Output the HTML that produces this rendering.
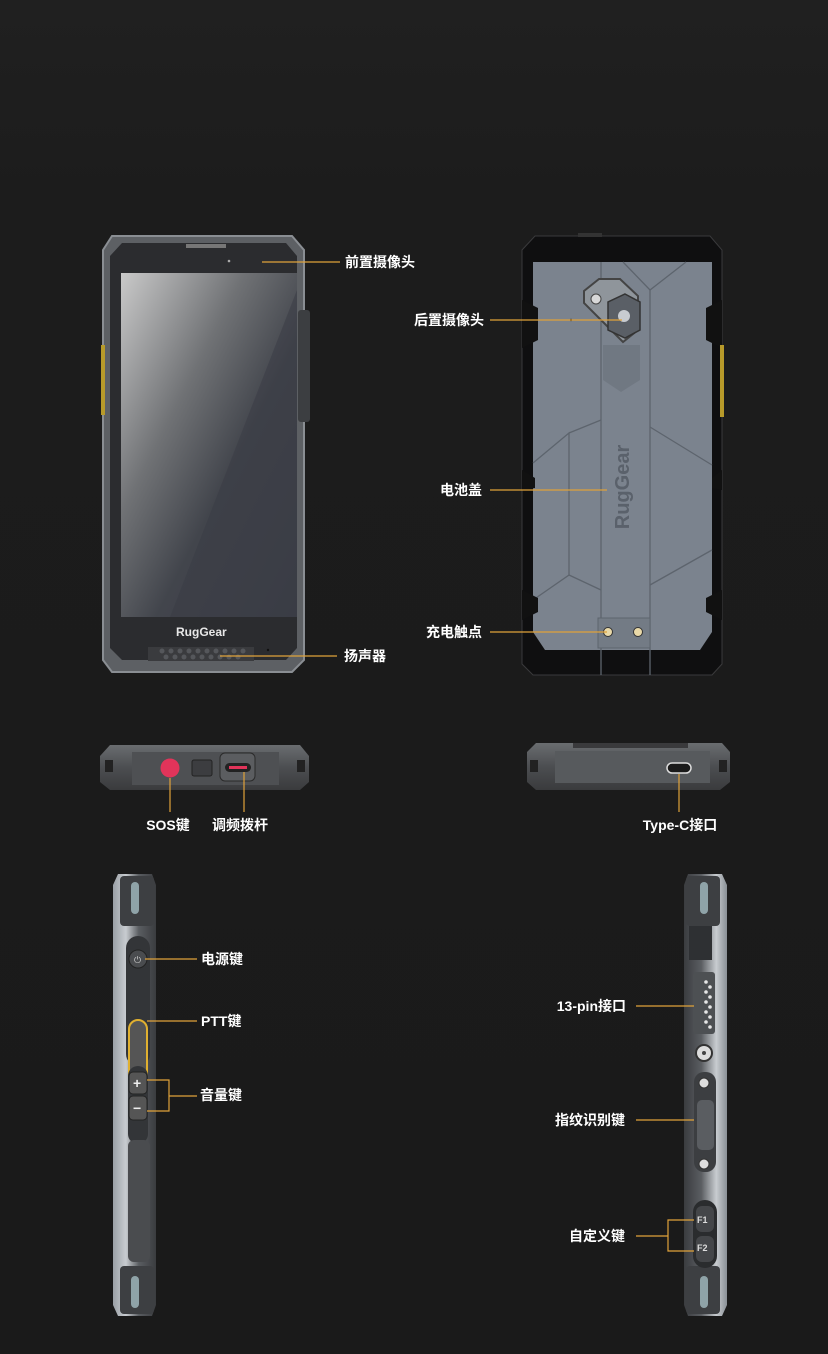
<!DOCTYPE html>
<html><head><meta charset="utf-8"><style>
html,body{margin:0;padding:0;background:#1b1b1b;}
svg{display:block}
text{font-family:"Liberation Sans","Noto Sans CJK SC",sans-serif;font-weight:bold;font-size:14px;fill:#fff}
</style></head><body>
<svg width="828" height="1354" viewBox="0 0 828 1354" xmlns="http://www.w3.org/2000/svg">
<defs>
<linearGradient id="bg" x1="0" y1="0" x2="0" y2="1"><stop offset="0" stop-color="#202020"/><stop offset="0.15" stop-color="#1c1c1c"/><stop offset="1" stop-color="#1a1a1a"/></linearGradient>
<linearGradient id="scr" x1="0" y1="0" x2="1" y2="1"><stop offset="0" stop-color="#c9c9c9"/><stop offset="0.35" stop-color="#707275"/><stop offset="0.6" stop-color="#42454c"/><stop offset="1" stop-color="#3a3d45"/></linearGradient>
<linearGradient id="side" x1="0" y1="0" x2="1" y2="0"><stop offset="0" stop-color="#9aa0a6"/><stop offset="0.3" stop-color="#c8ccd0"/><stop offset="0.6" stop-color="#5a5d61"/><stop offset="1" stop-color="#3a3c3f"/></linearGradient>
<linearGradient id="side2" x1="0" y1="0" x2="1" y2="0"><stop offset="0" stop-color="#3a3c3f"/><stop offset="0.4" stop-color="#5a5d61"/><stop offset="0.75" stop-color="#c8ccd0"/><stop offset="1" stop-color="#8a9096"/></linearGradient>
<linearGradient id="bot" x1="0" y1="0" x2="0" y2="1"><stop offset="0" stop-color="#6a6d70"/><stop offset="0.5" stop-color="#4c4e51"/><stop offset="1" stop-color="#3a3b3d"/></linearGradient>
</defs>
<rect width="828" height="1354" fill="url(#bg)"/>

<!-- FRONT PHONE -->
<path d="M112 236 L292 236 L304 250 L304 660 L292 672 L112 672 L103 660 L103 250 Z" fill="#5d6064" stroke="#8a8e93" stroke-width="2"/>
<rect x="298" y="310" width="12" height="112" rx="3" fill="#3c3e41"/>
<rect x="101" y="345" width="4" height="70" fill="#b79a2a"/>
<path d="M122 243 L286 243 L297 256 L297 648 L286 660 L122 660 L110 648 L110 256 Z" fill="#2b2c2f"/>
<rect x="186" y="244" width="40" height="4" fill="#777"/>
<rect x="121" y="273" width="176" height="344" fill="url(#scr)"/>
<path d="M297 290 L297 617 L170 617 Z" fill="#3a3d45" opacity="0.55"/>
<text x="176" y="636" style="font-size:12px;fill:#e8e8e8">RugGear</text>
<rect x="148" y="647" width="106" height="14" fill="#3a3b3e"/>
<g fill="#55575b">
<circle cx="162" cy="651" r="2.5"/><circle cx="171" cy="651" r="2.5"/><circle cx="180" cy="651" r="2.5"/><circle cx="189" cy="651" r="2.5"/><circle cx="198" cy="651" r="2.5"/><circle cx="207" cy="651" r="2.5"/><circle cx="216" cy="651" r="2.5"/><circle cx="225" cy="651" r="2.5"/><circle cx="234" cy="651" r="2.5"/><circle cx="243" cy="651" r="2.5"/>
<circle cx="166" cy="657" r="2.5"/><circle cx="175" cy="657" r="2.5"/><circle cx="184" cy="657" r="2.5"/><circle cx="193" cy="657" r="2.5"/><circle cx="202" cy="657" r="2.5"/><circle cx="211" cy="657" r="2.5"/><circle cx="220" cy="657" r="2.5"/><circle cx="229" cy="657" r="2.5"/><circle cx="238" cy="657" r="2.5"/>
</g>
<circle cx="268" cy="650" r="1.2" fill="#111"/>
<circle cx="229" cy="261" r="1.3" fill="#aaa"/>
<line x1="262" y1="262" x2="340" y2="262" stroke="#e0a23a" stroke-width="1.2"/>
<text x="345" y="267">前置摄像头</text>
<line x1="220" y1="656" x2="337" y2="656" stroke="#e0a23a" stroke-width="1.2"/>
<text x="344" y="661">扬声器</text>

<!-- BACK PHONE -->
<path d="M535 236 L710 236 L722 250 L722 664 L712 675 L533 675 L522 664 L522 250 Z" fill="#0f0f10" stroke="#3a3a3c" stroke-width="1"/>
<rect x="578" y="233" width="24" height="4" fill="#333"/>
<path d="M533 262 L712 262 L712 632 L700 650 L545 650 L533 632 Z" fill="#7b838e"/>
<g stroke="#5d646d" stroke-width="1.3" fill="none">
<line x1="601" y1="262" x2="601" y2="675"/>
<line x1="650" y1="290" x2="650" y2="675"/>
<path d="M623 262 L650 290 L686 262"/>
<path d="M650 427 L712 465"/>
<path d="M650 585 L712 550"/>
<path d="M533 463 L569 433 L569 575 L533 600"/>
<path d="M569 433 L601 420"/>
<path d="M569 575 L601 590"/>
</g>
<g fill="#111">
<path d="M522 300 L538 308 L538 340 L522 348 Z"/><path d="M722 300 L706 308 L706 340 L722 348 Z"/>
<path d="M522 470 L535 478 L535 488 L522 490 Z"/><path d="M722 470 L712 478 L712 488 L722 490 Z"/>
<path d="M522 590 L538 598 L538 612 L522 620 Z"/><path d="M722 590 L706 598 L706 612 L722 620 Z"/>
</g>
<rect x="720" y="345" width="4" height="72" fill="#b79a2a"/>
<path d="M603 345 L640 345 L640 380 L621 392 L603 380 Z" fill="#6e757f" opacity="0.8"/>
<path d="M599 279 L620 279 L638 296 L638 330 L623 342 L599 318 L584 303 L584 291 Z" fill="#8f959b" stroke="#444" stroke-width="2"/>
<path d="M625 294 L640 302 L640 330 L625 338 L608 330 L608 302 Z" fill="#5a5f66" stroke="#333" stroke-width="1.5"/>
<circle cx="624" cy="316" r="6" fill="#c7cbd0"/>
<circle cx="596" cy="299" r="5" fill="#d8d8d8" stroke="#444"/>
<circle cx="571" cy="320" r="1.2" fill="#222"/>
<text x="622" y="487" text-anchor="middle" transform="rotate(-90 622 487) translate(0 7)" style="font-size:20px;fill:#5a616b">RugGear</text>
<rect x="598" y="618" width="52" height="30" fill="#737b85" stroke="#5d646d"/>
<circle cx="608" cy="632" r="4.5" fill="#e9d9a8" stroke="#333"/>
<circle cx="638" cy="632" r="4.5" fill="#e9d9a8" stroke="#333"/>
<line x1="490" y1="320" x2="622" y2="320" stroke="#e0a23a" stroke-width="1.2"/>
<text x="484" y="325" text-anchor="end">后置摄像头</text>
<line x1="490" y1="490" x2="607" y2="490" stroke="#e0a23a" stroke-width="1.2"/>
<text x="482" y="495" text-anchor="end">电池盖</text>
<line x1="490" y1="632" x2="607" y2="632" stroke="#e0a23a" stroke-width="1.2"/>
<text x="482" y="637" text-anchor="end">充电触点</text>

<!-- BOTTOM LEFT -->
<path d="M110 745 L300 745 L309 756 L309 782 L300 790 L110 790 L100 782 L100 756 Z" fill="url(#bot)"/>
<rect x="132" y="752" width="147" height="33" fill="#4e5053"/>
<rect x="105" y="760" width="8" height="12" fill="#222"/><rect x="297" y="760" width="8" height="12" fill="#222"/>
<circle cx="170" cy="768" r="9.5" fill="#e2345a"/>
<rect x="192" y="760" width="20" height="16" rx="2" fill="#3c3d40" stroke="#222"/>
<rect x="220" y="753" width="35" height="28" rx="5" fill="#5b5d60" stroke="#2a2a2a"/>
<rect x="225" y="763" width="26" height="9" rx="4.5" fill="#222"/>
<rect x="229" y="766" width="18" height="3" fill="#e2345a"/>
<line x1="170" y1="778" x2="170" y2="812" stroke="#e0a23a" stroke-width="1.2"/>
<line x1="244" y1="772" x2="244" y2="812" stroke="#e0a23a" stroke-width="1.2"/>
<text x="168" y="830" text-anchor="middle">SOS键</text>
<text x="240" y="830" text-anchor="middle">调频拨杆</text>

<!-- BOTTOM RIGHT -->
<path d="M536 743 L722 743 L730 752 L730 782 L720 790 L536 790 L527 782 L527 752 Z" fill="url(#bot)"/>
<rect x="555" y="751" width="155" height="32" fill="#575a5d"/>
<rect x="573" y="743" width="115" height="5" fill="#3a3a3c"/>
<rect x="530" y="760" width="8" height="12" fill="#222"/><rect x="719" y="760" width="8" height="12" fill="#222"/>
<rect x="667" y="763" width="24" height="10" rx="5" fill="#1a1a1a" stroke="#ddd" stroke-width="1.5"/>
<line x1="679" y1="774" x2="679" y2="812" stroke="#e0a23a" stroke-width="1.2"/>
<text x="680" y="830" text-anchor="middle">Type-C接口</text>

<!-- SIDE LEFT -->
<path d="M118 874 L152 874 L156 885 L156 1305 L152 1316 L118 1316 L113 1305 L113 885 Z" fill="url(#side)"/>
<rect x="120" y="876" width="34" height="50" rx="4" fill="#3d3f42"/>
<rect x="120" y="1266" width="34" height="48" rx="4" fill="#3d3f42"/>
<rect x="131" y="882" width="8" height="32" rx="4" fill="#8fa3a8"/>
<rect x="131" y="1276" width="8" height="32" rx="4" fill="#8fa3a8"/>
<rect x="126" y="936" width="24" height="130" rx="12" fill="#333538"/>
<circle cx="138" cy="959" r="9" fill="#4a4c4f" stroke="#222"/>
<text x="134" y="963" style="font-size:9px;fill:#ccc;font-weight:normal">⏻</text>
<rect x="128" y="1018" width="20" height="85" rx="10" fill="#333538"/>
<rect x="129" y="1020" width="18" height="77" rx="9" fill="#555" stroke="#e0b030" stroke-width="2"/>
<rect x="128" y="1066" width="20" height="78" rx="10" fill="#333538"/>
<rect x="129" y="1072" width="18" height="22" rx="4" fill="#555" stroke="#222"/>
<rect x="129" y="1096" width="18" height="24" rx="4" fill="#555" stroke="#222"/>
<text x="133" y="1088" style="font-size:14px;fill:#eee">+</text>
<text x="133" y="1113" style="font-size:14px;fill:#eee">−</text>
<rect x="128" y="1140" width="22" height="122" rx="6" fill="#4a4c4f"/>
<line x1="145" y1="959" x2="197" y2="959" stroke="#e0a23a" stroke-width="1.2"/>
<text x="201" y="964">电源键</text>
<line x1="147" y1="1021" x2="197" y2="1021" stroke="#e0a23a" stroke-width="1.2"/>
<text x="201" y="1026">PTT键</text>
<path d="M147 1080 L169 1080 L169 1111 L147 1111 M169 1096 L197 1096" stroke="#e0a23a" stroke-width="1.2" fill="none"/>
<text x="200" y="1100">音量键</text>

<!-- SIDE RIGHT -->
<path d="M688 874 L722 874 L727 885 L727 1305 L722 1316 L688 1316 L684 1305 L684 885 Z" fill="url(#side2)"/>
<rect x="686" y="876" width="34" height="50" rx="4" fill="#3d3f42"/>
<rect x="686" y="1266" width="34" height="48" rx="4" fill="#3d3f42"/>
<rect x="700" y="882" width="8" height="32" rx="4" fill="#8fa3a8"/>
<rect x="700" y="1276" width="8" height="32" rx="4" fill="#8fa3a8"/>
<rect x="689" y="926" width="23" height="34" fill="#2e3033"/>
<rect x="693" y="972" width="22" height="62" rx="3" fill="#4d5053"/>
<g fill="#e6e6e6"><circle cx="706" cy="982" r="1.8"/><circle cx="710" cy="987" r="1.8"/><circle cx="706" cy="992" r="1.8"/><circle cx="710" cy="997" r="1.8"/><circle cx="706" cy="1002" r="1.8"/><circle cx="710" cy="1007" r="1.8"/><circle cx="706" cy="1012" r="1.8"/><circle cx="710" cy="1017" r="1.8"/><circle cx="706" cy="1022" r="1.8"/><circle cx="710" cy="1027" r="1.8"/></g>
<circle cx="704" cy="1053" r="8" fill="#ddd" stroke="#333" stroke-width="2"/>
<circle cx="704" cy="1053" r="2" fill="#444"/>
<rect x="694" y="1072" width="22" height="100" rx="10" fill="#3c3e41"/>
<circle cx="704" cy="1083" r="5" fill="#ddd" stroke="#333"/>
<rect x="697" y="1100" width="17" height="50" rx="5" fill="#5a5d61"/>
<circle cx="704" cy="1164" r="5" fill="#ddd" stroke="#333"/>
<rect x="693" y="1200" width="24" height="68" rx="12" fill="#2a2c2e"/>
<rect x="696" y="1206" width="18" height="26" rx="6" fill="#444649"/>
<rect x="696" y="1236" width="18" height="26" rx="6" fill="#444649"/>
<text x="697" y="1223" style="font-size:9px;fill:#ddd">F1</text>
<text x="697" y="1251" style="font-size:9px;fill:#ddd">F2</text>
<line x1="636" y1="1006" x2="694" y2="1006" stroke="#e0a23a" stroke-width="1.2"/>
<text x="626" y="1011" text-anchor="end">13-pin接口</text>
<line x1="636" y1="1120" x2="694" y2="1120" stroke="#e0a23a" stroke-width="1.2"/>
<text x="625" y="1125" text-anchor="end">指纹识别键</text>
<path d="M694 1220 L668 1220 L668 1251 L694 1251 M668 1236 L636 1236" stroke="#e0a23a" stroke-width="1.2" fill="none"/>
<text x="625" y="1241" text-anchor="end">自定义键</text>
</svg>
</body></html>
